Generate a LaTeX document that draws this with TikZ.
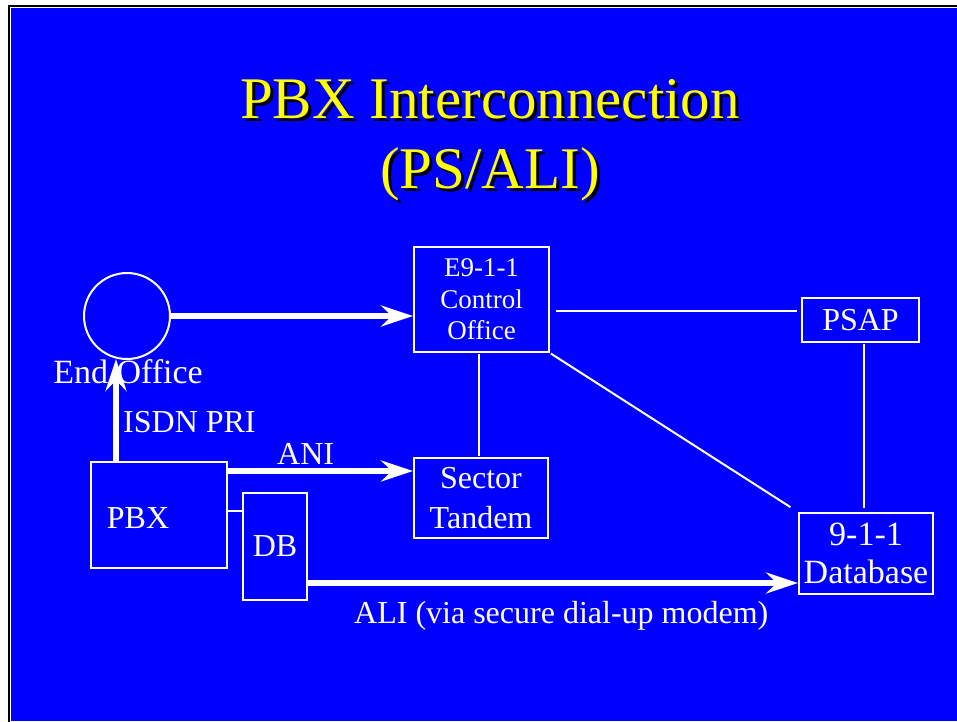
\documentclass[tikz,border=0pt]{standalone}
\usepackage{fontspec}
\setmainfont{Liberation Serif}
\usetikzlibrary{arrows.meta}
\definecolor{slideblue}{RGB}{0,0,255}
\definecolor{slideyellow}{RGB}{255,255,0}
\newcommand{\shadowtext}[1]{\makebox[0pt][l]{\hspace{3pt}\raisebox{-3pt}{\color{black}#1}}{\color{slideyellow}#1}}
\begin{document}
\begin{tikzpicture}[x=1pt,y=-1pt,
  box/.style={draw=white, line width=2pt, rectangle, inner sep=0pt, text=white, align=center},
  lbl/.style={text=white, inner sep=0pt, font=\fontsize{32}{38}\selectfont},
  wline/.style={draw=white, line width=2pt},
  fat/.style={draw=white, line width=6pt, -{Stealth[length=32pt,width=21pt,inset=11pt]}},
  ttl/.style={inner sep=0pt, font=\fontsize{59}{70}\selectfont, anchor=base}
]
\useasboundingbox (0,0) rectangle (957,721);
\fill[white] (0,0) rectangle (957,721);
\draw[black, line width=2pt] (9,730) -- (9,6) -- (966,6);
\fill[slideblue] (11,8) rectangle (957,721);

% title
\node[ttl] (t1) at (490,118) {\shadowtext{PBX Interconnection}};
\node[ttl] (t2) at (490,188) {\shadowtext{(PS/ALI)}};

% nodes
\node[draw=white, line width=2pt, circle, minimum size=86pt, inner sep=0pt] (eo) at (127,316) {};
\node[lbl, anchor=base, font=\fontsize{34}{38}\selectfont] (eolabel) at (128,383) {End Office};
\node[box, minimum width=135pt, minimum height=105pt, font=\fontsize{27}{31.5}\selectfont] (e9) at (481.5,299.5) {E9-1-1\\Control\\Office};
\node[box, minimum width=117pt, minimum height=44pt, font=\fontsize{32}{38}\selectfont] (psap) at (860.5,320) {PSAP};
\node[box, minimum width=134pt, minimum height=80pt, font=\fontsize{32}{40}\selectfont] (sector) at (481,498) {Sector\\Tandem};
\node[box, minimum width=134pt, minimum height=81pt, font=\fontsize{34}{38}\selectfont] (db9) at (866,553.5) {9-1-1\\Database};
\node[box, minimum width=136pt, minimum height=106pt] (pbx) at (159,515) {};
\node[lbl, anchor=base] (pbxlabel) at (138,528) {PBX};
\node[box, minimum width=64pt, minimum height=107pt, font=\fontsize{32}{38}\selectfont] (dbbox) at (275,546.5) {DB};

% helper coordinates
\coordinate (isdntip) at (116,359);
\coordinate (aniy) at (0,471);
\coordinate (aliy) at (0,583);
\coordinate (pbxdby) at (0,511);
\coordinate (psapy) at (0,311);
\coordinate (e9x) at (479,0);
\coordinate (psapx) at (864,0);

% connectors
\draw[fat] (eo.east) -- (e9.west |- eo.east);
\draw[fat] (isdntip |- pbx.north) -- (isdntip);
\draw[fat] (pbx.east |- aniy) -- (sector.west |- aniy);
\draw[fat] (dbbox.east |- aliy) -- (db9.west |- aliy);
\draw[wline] (pbx.east |- pbxdby) -- (dbbox.west |- pbxdby);
\draw[wline, shorten <=6pt, shorten >=4pt] (e9.east |- psapy) -- (psap.west |- psapy);
\draw[wline, shorten <=1pt, shorten >=1pt] (e9.south -| e9x) -- (sector.north -| e9x);
\draw[wline, shorten <=1pt, shorten >=4pt] (psap.south -| psapx) -- (db9.north -| psapx);
\draw[wline, shorten <=1pt, shorten >=9pt] (e9.south east) -- (db9.north west);

% labels
\node[lbl, anchor=base west] (isdnlabel) at (123,432) {ISDN PRI};
\node[lbl, anchor=base west] (anilabel) at (277,464) {ANI};
\node[lbl, anchor=base west] (alilabel) at (354,623) {ALI (via secure dial-up modem)};
\end{tikzpicture}
\end{document}
